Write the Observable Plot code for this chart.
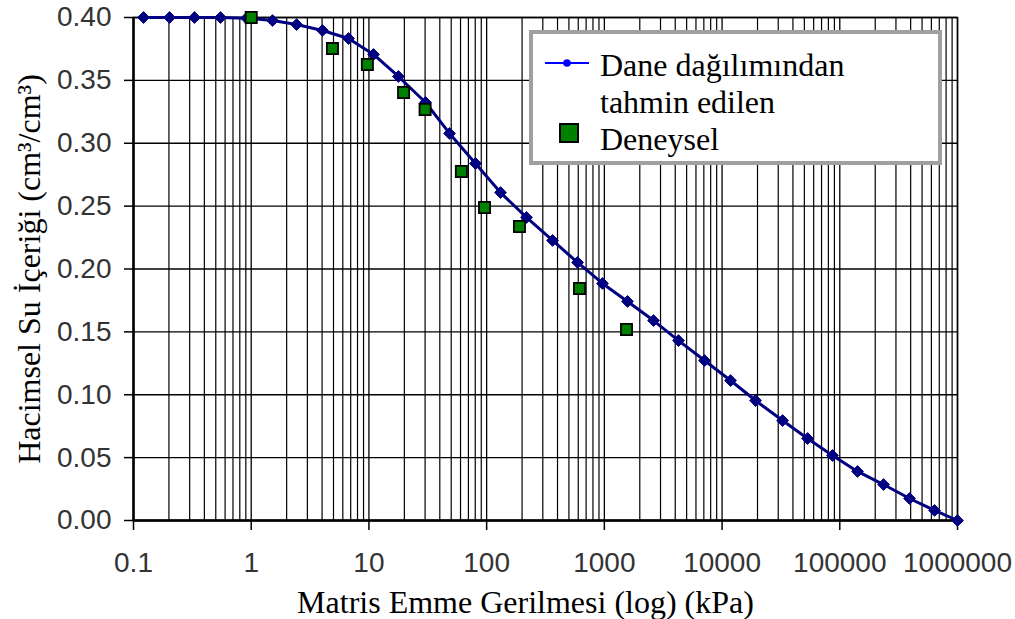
<!DOCTYPE html>
<html><head><meta charset="utf-8">
<script src="https://cdn.jsdelivr.net/npm/d3@7"></script>
<script src="https://cdn.jsdelivr.net/npm/@observablehq/plot@0.6"></script>
<style>
body{margin:0;background:#fff;}
#wrap{position:relative;width:1015px;height:619px;background:#fff;}
#wrap svg g[aria-label="x-axis tick label"], #wrap svg g[aria-label="y-axis tick label"]{font-family:"Liberation Sans",Arial,sans-serif;font-size:28px;fill:#333;}
.legend{position:absolute;left:529px;top:30px;width:405px;height:127px;border:4px solid #a0a0a0;background:#fff;font-family:"Liberation Serif","Times New Roman",serif;font-size:32px;color:#000;}
.legend .t{position:absolute;left:67px;white-space:nowrap;line-height:1;}
.legend svg{position:absolute;}
</style></head><body><div id="wrap"></div>
<script>
// Model curve: "Dane dağılımından tahmin edilen"
const suctionModel = [0.1216,0.2023,0.3296,0.548,0.912,1.517,2.43,4.03,6.71,10.94,17.8,30.3,48.4,80.4,131.2,218,363,592,965,1573,2617,4266,7096,11800,19240,32650,53220,86760,141500,235400,391300,638600,1000000];
const thetaModel = [0.400,0.400,0.400,0.400,0.3995,0.3976,0.3944,0.3897,0.3833,0.3706,0.3531,0.3324,0.3078,0.2839,0.2608,0.2410,0.2227,0.2052,0.1885,0.1742,0.1590,0.1431,0.1272,0.1113,0.0954,0.0795,0.0652,0.0517,0.0390,0.0286,0.0175,0.0080,0.000];
// Experimental: "Deneysel"
const suctionExp = [1,4.9,9.7,19.7,30,61,96,190,615,1542];
const thetaExp = [0.400,0.3753,0.3626,0.3404,0.3268,0.2775,0.2489,0.2338,0.1845,0.1519];
const xTicks = [0.1,1,10,100,1000,10000,100000,1000000];
const yTicks = [0,0.05,0.10,0.15,0.20,0.25,0.30,0.35,0.40];
const seriesNames = ["Dane dağılımından", "tahmin edilen", "Deneysel"];
const xTitle = "Matris Emme Gerilmesi (log) (kPa)";
const yTitle = "Hacimsel Su İçeriği (cm³/cm³)";

const model = suctionModel.map((s,i)=>({s, t: thetaModel[i]}));
const exp = suctionExp.map((s,i)=>({s, t: thetaExp[i]}));
const minor = [];
for (let k=-1;k<=5;k++) for (let m=2;m<=9;m++) minor.push(m*Math.pow(10,k));

const serif = "Liberation Serif, Times New Roman, serif";
const chart = Plot.plot({
  width:1015, height:619,
  marginLeft:133, marginRight:58, marginTop:17, marginBottom:99,
  x:{type:"log", domain:[0.1,1e6]},
  y:{domain:[0,0.4]},
  style:{background:"#fff", fontFamily:"Liberation Sans, Arial, sans-serif"},
  marks:[
    Plot.ruleX(minor, {stroke:"#000", strokeWidth:1.2}),
    Plot.ruleX(xTicks, {stroke:"#000", strokeWidth:1.3}),
    Plot.ruleY(yTicks, {stroke:"#000", strokeWidth:1.4}),
    Plot.frame({stroke:"#000", strokeWidth:1.5}),
    Plot.axisX({ticks:xTicks, tickFormat:d=>String(d), tickSize:10, tickPadding:22, stroke:"#000", strokeWidth:1.5, label:null}),
    Plot.axisY({ticks:yTicks, tickFormat:d3.format(".2f"), tickSize:9, tickPadding:13, stroke:"#000", strokeWidth:1.5, label:null}),
    Plot.text([xTitle], {text:d=>d, frameAnchor:"bottom", lineAnchor:"bottom", dx:-20, dy:92,
      fontFamily:serif, fontSize:32, fill:"#000"}),
    Plot.text([yTitle], {text:d=>d, frameAnchor:"left", textAnchor:"middle", lineAnchor:"top", rotate:-90, dx:-116,
      fontFamily:serif, fontSize:32, fill:"#000"}),
    Plot.ruleX([0.1], {stroke:"#000", strokeWidth:2.5}),
    Plot.ruleY([0], {stroke:"#000", strokeWidth:2.5}),
    Plot.line(model, {x:"s", y:"t", stroke:"#000080", strokeWidth:3}),
    Plot.dot(model, {x:"s", y:"t", symbol:"diamond2", r:5.3, fill:"#000080", stroke:"#000080", strokeWidth:1}),
    Plot.dot(exp, {x:"s", y:"t", symbol:"square", r:6.3, fill:"#008000", stroke:"#000", strokeWidth:1.8})
  ]
});
const wrap = document.getElementById("wrap");
wrap.appendChild(chart);

const leg = document.createElement("div");
leg.className = "legend";
leg.innerHTML = `
  <svg width="44" height="12" style="left:12px;top:23px"><line x1="0" y1="6" x2="44" y2="6" stroke="#0000ff" stroke-width="2"/><circle cx="22" cy="6" r="3.8" fill="#0000ff"/></svg>
  <div class="t" style="top:15px">${seriesNames[0]}</div>
  <div class="t" style="top:52px">${seriesNames[1]}</div>
  <svg width="20" height="20" style="left:26px;top:89px"><rect x="1" y="1" width="18" height="18" fill="#008000" stroke="#000" stroke-width="2"/></svg>
  <div class="t" style="top:89px">${seriesNames[2]}</div>`;
wrap.appendChild(leg);
</script>
</body></html>
